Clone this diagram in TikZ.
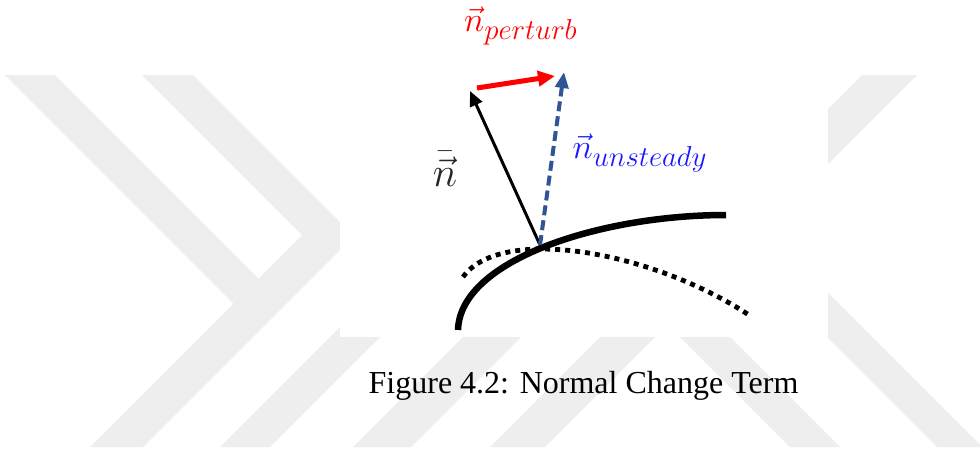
\documentclass[tikz,border=0pt]{standalone}
\usepackage{fontspec}
\newfontfamily\capfont{Liberation Serif}
\usepackage{xcolor}
\definecolor{nred}{RGB}{255,0,0}
\definecolor{nblue}{RGB}{25,25,255}
\definecolor{nsteel}{RGB}{47,85,151}
\definecolor{wmgray}{RGB}{238,238,238}
\usetikzlibrary{arrows.meta}

\begin{document}
\begin{tikzpicture}[x=0.5pt,y=-0.5pt,
  wmark/.style={fill=wmgray},
  surface/.style={line width=3.25pt},
  oldsurface/.style={line width=2.4pt,dash pattern=on 2.5pt off 2.5pt},
  veclabel/.style={inner sep=0pt}]
  \useasboundingbox (0,0) rectangle (980,451);
  \fill[white] (0,0) rectangle (980,451);
  % watermark
  \fill[wmark] (5,75) -- (55,75) -- (258.5,278.5) -- (302,235) -- (142,75) -- (193,75)
    -- (354,236) -- (143,447) -- (90,447) -- (233.5,303.5) -- cycle;
  \fill[wmark] (592,75) -- (642,75) -- (270,447) -- (220,447) -- cycle;
  \fill[wmark] (725,75) -- (783,75) -- (411,447) -- (353,447) -- cycle;
  \fill[wmark] (862,75) -- (917,75) -- (545,447) -- (490,447) -- cycle;
  \fill[wmark] (418,75) -- (468,75) -- (840,447) -- (790,447) -- cycle;
  \fill[wmark] (565,75) -- (610,75) -- (982,447) -- (937,447) -- cycle;
  \fill[white] (340,0) rectangle (828,337);

  \coordinate (foot) at (540,245);
  \coordinate (nbartip) at (470,91);
  \coordinate (unsteadytip) at (564,72);
  \coordinate (perturbstart) at (477,88);
  \coordinate (perturbtip) at (555,76);
  \coordinate (s1) at (458,330);
  \coordinate (s2) at (726,215);
  \coordinate (d1) at (463,277);
  \coordinate (d2) at (749,315);

  \draw[surface] (s1) .. controls (460,260) and (600,215) .. (s2);
  \draw[oldsurface] (d1) .. controls (500,225) and (650,250) .. (d2);

  \draw[line width=1.5pt,-{Triangle[length=7.5pt,width=6.5pt]}] (foot) -- (nbartip);
  \draw[nsteel,line width=2pt,dash pattern=on 5pt off 2.5pt,-{Triangle[length=8pt,width=6.5pt]}] (foot) -- (unsteadytip);
  \draw[nred,line width=2.5pt,-{Triangle[length=8.5pt,width=7.5pt]}] (perturbstart) -- (perturbtip);

  \node[veclabel,nred,font=\fontsize{19}{23}\selectfont] (perturb) at (521,26) {$\vec{n}_{perturb}$};
  \node[veclabel,nblue,font=\fontsize{19}{23}\selectfont] (unsteady) at (640,153) {$\vec{n}_{unsteady}$};
  \node[veclabel,black!85,font=\fontsize{21}{25}\selectfont] (nbar) at (445,169) {$\bar{\vec{n}}$};

  \node[font=\capfont\fontsize{16}{19}\selectfont,anchor=base] (caption) at (583.5,393) {Figure 4.2: Normal Change Term};
\end{tikzpicture}
\end{document}
